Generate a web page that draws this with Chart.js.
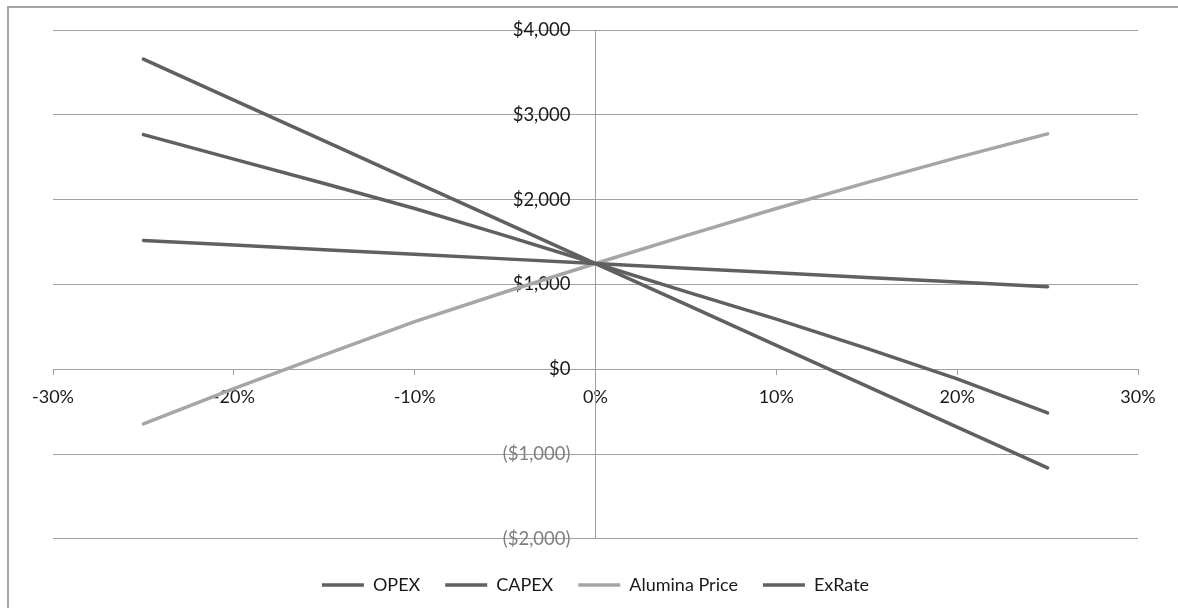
<!DOCTYPE html>
<html lang="en">
<head>
  <meta charset="UTF-8">
  <title>Sensitivity - NPV</title>
  <!-- Chart.js -->
  <script src="https://cdn.jsdelivr.net/npm/chart.js"></script>
  <style>
    body {
      margin: 0;
      background-color: #ffffff;
      overflow: hidden;
    }
    /* outer frame, only left and top edges fall inside the window */
    .frame {
      position: absolute;
      left: 7px;
      top: 6px;
      width: 1200px;
      height: 640px;
      border: 2px solid #a6a6a6;
    }
    .chart-container {
      position: absolute;
      left: 0;
      top: 0;
      width: 1178px;
      height: 608px;
    }
  </style>
</head>
<body>
  <div class="frame"></div>
  <div class="chart-container">
    <canvas id="sensChart"></canvas>
  </div>

  <script>
    // Change in each driver (%)
    const changes = [-25, -20, -15, -10, -5, 0, 5, 10, 15, 20, 25];

    // Result ($) for each driver
    const opex     = [3656, 3174, 2692, 2210, 1728, 1246, 764, 282, -200, -682, -1163];
    const capex    = [1519, 1464, 1410, 1355, 1301, 1246, 1191, 1137, 1082, 1028, 973];
    const alumina  = [-645, -230, 170, 560, 910, 1246, 1575, 1895, 2200, 2495, 2775];
    const exRate   = [2766, 2478, 2190, 1895, 1575, 1246, 915, 590, 245, -115, -515];

    // Axis ticks
    const xTicks = [-30, -20, -10, 0, 10, 20, 30];
    const yTicks = [-2000, -1000, 0, 1000, 2000, 3000, 4000];

    const darkGrey = '#606060';
    const lightGrey = '#a6a6a6';
    const gridGrey = '#a0a0a0';

    function toPoints(values) {
      return changes.map((c, i) => ({ x: c, y: values[i] }));
    }

    function money(v) {
      const s = '$' + Math.abs(v).toLocaleString('en-US');
      return v < 0 ? '(' + s + ')' : s;
    }

    function line(label, values, color) {
      return {
        label: label,
        data: toPoints(values),
        borderColor: color,
        backgroundColor: color,
        borderWidth: 3.5,
        borderCapStyle: 'round',
        showLine: true,
        pointRadius: 0,
        pointHoverRadius: 0,
        tension: 0
      };
    }

    // push y labels away from the axis they sit on (before scales get drawn)
    const yLabelShift = {
      id: 'yLabelShift',
      beforeDraw(chart) {
        const items = chart.scales.y.getLabelItems();
        items.forEach(it => {
          if (!it._shifted) {
            it.options.translation[0] -= 25;
            it._shifted = true;
          }
        });
      }
    };

    new Chart(document.getElementById('sensChart').getContext('2d'), {
      type: 'scatter',
      data: {
        datasets: [
          line('OPEX', opex, darkGrey),
          line('CAPEX', capex, darkGrey),
          line('Alumina Price', alumina, lightGrey),
          line('ExRate', exRate, darkGrey)
        ]
      },
      options: {
        responsive: true,
        maintainAspectRatio: false,
        animation: false,
        layout: {
          padding: { left: 53, right: 40, top: 30, bottom: 4 }
        },
        scales: {
          x: {
            type: 'linear',
            min: -30,
            max: 30,
            position: { y: 0 },
            afterBuildTicks: scale => { scale.ticks = xTicks.map(v => ({ value: v })); },
            grid: { drawOnChartArea: false, drawTicks: true, tickLength: 5, color: gridGrey },
            border: { display: true, color: gridGrey, width: 1 },
            ticks: {
              padding: 12,
              color: '#1a1a1a',
              font: { family: 'Lato', size: 18 },
              maxRotation: 0,
              callback: v => v + '%'
            }
          },
          y: {
            type: 'linear',
            min: -2000,
            max: 4000,
            position: { x: 0 },
            afterBuildTicks: scale => { scale.ticks = yTicks.map(v => ({ value: v })); },
            grid: { drawOnChartArea: true, drawTicks: true, tickLength: 5, color: gridGrey },
            border: { display: true, color: gridGrey, width: 1 },
            ticks: {
              padding: 0,
              color: ctx => ctx.tick && ctx.tick.value < 0 ? '#7f7f7f' : '#1a1a1a',
              font: { family: 'Lato', size: 18.5 },
              callback: v => money(v)
            }
          }
        },
        plugins: {
          tooltip: { enabled: false },
          legend: {
            display: true,
            position: 'bottom',
            title: { display: true, text: '', font: { size: 1 }, padding: { top: 11, bottom: 0 } },
            labels: {
              usePointStyle: true,
              pointStyle: 'line',
              pointStyleWidth: 42,
              padding: 25,
              color: '#1a1a1a',
              font: { family: 'Lato', size: 18 }
            }
          }
        }
      },
      plugins: [yLabelShift]
    });
  </script>
</body>
</html>
